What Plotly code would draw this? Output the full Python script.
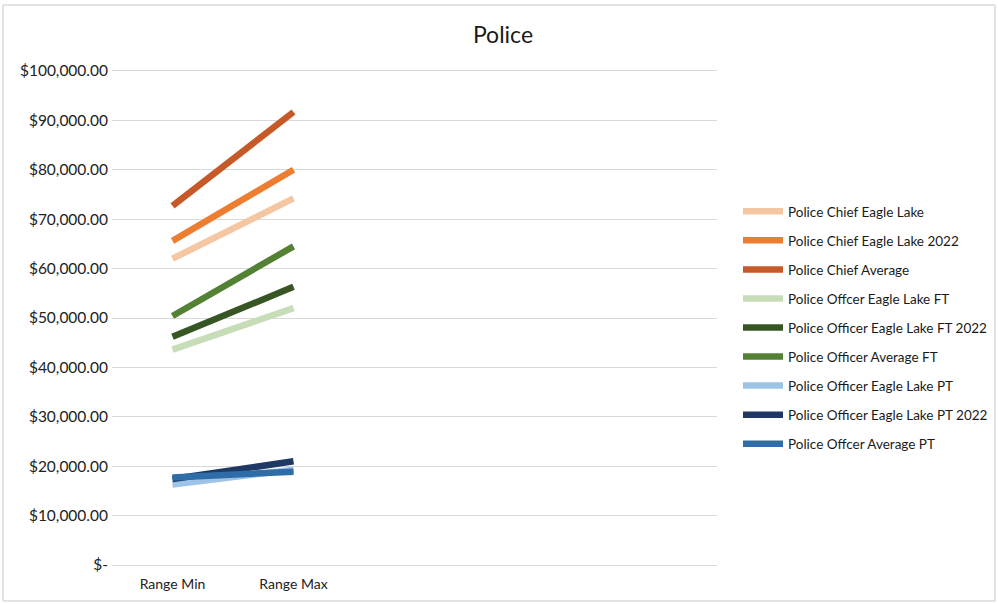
import plotly.graph_objects as go

# Salary ranges by position (Range Min, Range Max)
categories = ["Range Min", "Range Max"]
series_names = [
    "Police Chief Eagle Lake",
    "Police Chief Eagle Lake 2022",
    "Police Chief Average",
    "Police Offcer Eagle Lake FT",
    "Police Officer Eagle Lake FT 2022",
    "Police Officer Average FT",
    "Police Officer Eagle Lake PT",
    "Police Officer Eagle Lake PT 2022",
    "Police Offcer Average PT",
]
chief_eagle_lake = [62000, 74200]
chief_eagle_lake_2022 = [65600, 80000]
chief_average = [72700, 91700]
officer_ft_eagle_lake = [43600, 52000]
officer_ft_eagle_lake_2022 = [46200, 56300]
officer_ft_average = [50400, 64500]
officer_pt_eagle_lake = [16300, 19300]
officer_pt_eagle_lake_2022 = [17400, 21000]
officer_pt_average = [17700, 18900]

series_values = [
    chief_eagle_lake, chief_eagle_lake_2022, chief_average,
    officer_ft_eagle_lake, officer_ft_eagle_lake_2022, officer_ft_average,
    officer_pt_eagle_lake, officer_pt_eagle_lake_2022, officer_pt_average,
]
series_colors = [
    "#F4C6A2", "#ED7D31", "#C55A28",
    "#C6DDB8", "#375623", "#548235",
    "#9DC3E6", "#1F3864", "#2E6DA8",
]

y_tickvals = [0, 10000, 20000, 30000, 40000, 50000, 60000, 70000, 80000, 90000, 100000]
y_ticktext = ["$-", "$10,000.00", "$20,000.00", "$30,000.00", "$40,000.00", "$50,000.00",
              "$60,000.00", "$70,000.00", "$80,000.00", "$90,000.00", "$100,000.00"]

FONT = "Lato"

fig = go.Figure()
x_pos = list(range(len(categories)))
for i, (name, vals, color) in enumerate(zip(series_names, series_values, series_colors)):
    fig.add_trace(go.Scatter(
        x=x_pos, y=vals, name=name, mode="lines",
        line=dict(color=color, width=6.5),
        legendgroup=f"g{i}",
        hoverinfo="x+y+name",
    ))

ML, MR, MT, MB = 112, 281, 66, 34
PW = 998 - ML - MR
PH = 604 - MT - MB

# the y range is padded by 1,000 on each side so both edge gridlines are drawn
fig.update_layout(
    width=998, height=604,
    margin=dict(l=ML, r=MR, t=MT, b=MB, autoexpand=False),
    paper_bgcolor="white", plot_bgcolor="white",
    font=dict(family=FONT, color="#222222", size=13),
    title=dict(text="Police", x=0.504, xanchor="center", y=0.942, yanchor="middle",
               font=dict(family=FONT, size=23, color="#1a1a1a")),
    showlegend=True,
    legend=dict(
        x=(738 - ML) / PW, xanchor="left", y=(565 + 5 - 196) / PH, yanchor="top",
        font=dict(family=FONT, size=13.5, color="#1a1a1a"),
        traceorder="grouped", tracegroupgap=8.5,
        itemwidth=40, bgcolor="rgba(0,0,0,0)",
    ),
    xaxis=dict(
        range=[-0.5, 4.5],
        tickvals=x_pos, ticktext=categories,
        showgrid=False, zeroline=False, showline=False,
        ticks="", tickfont=dict(size=14, color="#222222"),
        ticklabelstandoff=4,
        fixedrange=True,
    ),
    yaxis=dict(
        range=[-1000, 101000],
        tickvals=y_tickvals, ticktext=y_ticktext,
        showgrid=True, gridcolor="#D9D9D9", gridwidth=1,
        zeroline=False, showline=False, ticks="",
        ticklabelstandoff=3,
        tickfont=dict(size=15.5, color="#222222"),
        fixedrange=True,
    ),
    shapes=[dict(
        type="rect", xref="paper", yref="paper",
        x0=(3 - ML) / PW, x1=(995 - ML) / PW,
        y0=(604 - MB - 601) / PH, y1=(604 - MB - 5) / PH,
        line=dict(color="#C8C8C8", width=1), fillcolor="rgba(0,0,0,0)", layer="below",
    )],
)

fig.write_html("out.html")
